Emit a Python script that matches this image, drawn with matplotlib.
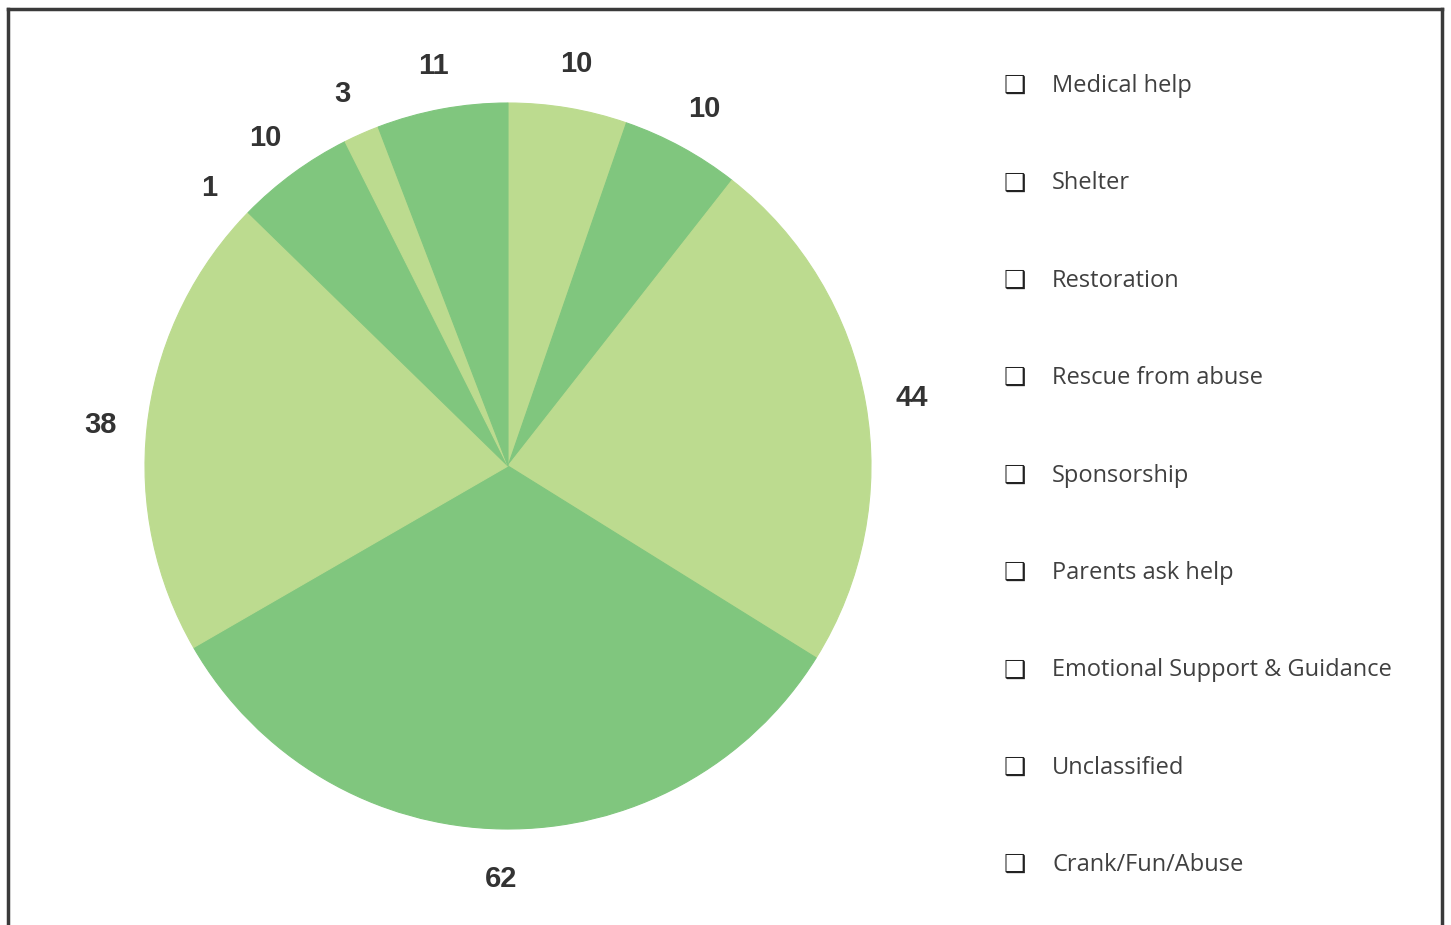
import matplotlib.pyplot as plt

# data, clockwise from 12 o'clock
categories = ["Medical help", "Shelter", "Restoration", "Rescue from abuse",
              "Sponsorship", "Parents ask help", "Emotional Support & Guidance",
              "Unclassified", "Crank/Fun/Abuse"]
values = [10, 10, 44, 62, 38, 1, 10, 3, 11]

light = "#bcdb8f"
green = "#80c67e"
colors = [light, green, light, green, light, light, green, light, green]

W, H = 1451, 925
fig = plt.figure(figsize=(W / 100, H / 100), dpi=100)

# pie centre (508, 466) px, radius ~363 px
cx, cy, r = 508, 466, 363
ax = fig.add_axes([(cx - r) / W, (H - cy - r) / H, 2 * r / W, 2 * r / H])
wedges, texts = ax.pie(values, labels=[str(v) for v in values], colors=colors,
                       startangle=90, counterclock=False, labeldistance=1.13,
                       wedgeprops=dict(linewidth=0),
                       textprops=dict(fontsize=21, fontweight="bold", color="#333333",
                                      family=["Liberation Sans", "DejaVu Sans"]))
for w in wedges:
    w.set_edgecolor(w.get_facecolor())
    w.set_linewidth(0.8)
for t in texts:
    t.set_ha("center")
    t.set_va("center_baseline")
ax.set_xlim(-1, 1)
ax.set_ylim(-1, 1)
ax.set_aspect("equal")
ax.axis("off")

# legend as text rows
y0, step = 86, 97.4
for i, name in enumerate(categories):
    y = 1 - (y0 + i * step) / H
    fig.text(1004 / W, y, "\u2751", fontsize=18, color="#222222", va="center",
             family=["DejaVu Sans"])
    fig.text(1052 / W, y, name, fontsize=17, color="#404040", va="center",
             family=["Open Sans", "DejaVu Sans"])

# frame (left, top, right only)
kw = dict(color="#3a3a3a", linewidth=2.5, transform=fig.transFigure)
fig.add_artist(plt.Line2D([8 / W, 8 / W], [0, 1 - 9 / H], **kw))
fig.add_artist(plt.Line2D([8 / W, 1442 / W], [1 - 9 / H, 1 - 9 / H], **kw))
fig.add_artist(plt.Line2D([1442 / W, 1442 / W], [0, 1 - 9 / H], **kw))

fig.savefig("out.png", dpi=100)
